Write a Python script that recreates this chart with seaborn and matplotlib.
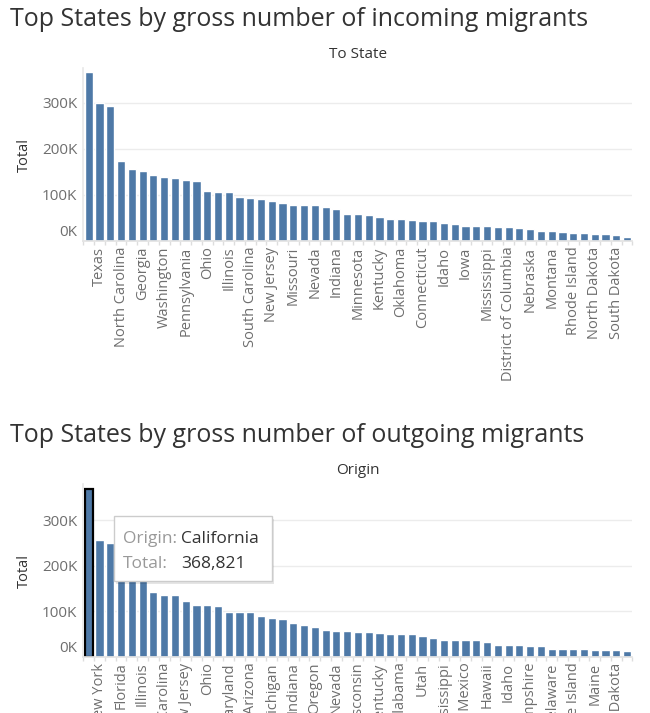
import numpy as np
import pandas as pd
import seaborn as sns
import matplotlib.pyplot as plt
from matplotlib.ticker import FuncFormatter
from matplotlib.transforms import ScaledTranslation
from matplotlib.patches import Rectangle

# ---------------- data ----------------
in_states = ["Florida", "Texas", "California", "North Carolina", "New York", "Georgia",
             "Arizona", "Washington", "Virginia", "Pennsylvania", "Colorado", "Ohio",
             "Tennessee", "Illinois", "Michigan", "South Carolina", "Maryland", "New Jersey",
             "Massachusetts", "Missouri", "Alabama", "Nevada", "Oregon", "Indiana",
             "Wisconsin", "Minnesota", "Louisiana", "Kentucky", "Utah", "Oklahoma",
             "Kansas", "Connecticut", "Arkansas", "Idaho", "New Mexico", "Iowa",
             "Hawaii", "Mississippi", "Maine", "District of Columbia", "New Hampshire",
             "Nebraska", "West Virginia", "Montana", "Delaware", "Rhode Island", "Alaska",
             "North Dakota", "Vermont", "South Dakota", "Wyoming"]
in_totals = [367000, 300000, 293000, 174000, 157000, 152000, 143000, 139000, 137000,
             133000, 130000, 109000, 107000, 107000, 96000, 93000, 91000, 87000, 83000,
             78000, 78000, 78000, 74000, 70000, 59000, 59000, 57000, 52000, 48000, 48000,
             46000, 43000, 43000, 39000, 37000, 33000, 33000, 33000, 30000, 30000, 28000,
             26000, 22000, 22000, 20000, 17000, 17000, 15000, 15000, 13000, 9000]

out_states = ["California", "New York", "Texas", "Florida", "Pennsylvania", "Illinois",
              "Virginia", "North Carolina", "Georgia", "New Jersey", "Washington", "Ohio",
              "Massachusetts", "Maryland", "Colorado", "Arizona", "Tennessee", "Michigan",
              "South Carolina", "Indiana", "Missouri", "Oregon", "Minnesota", "Nevada",
              "Louisiana", "Wisconsin", "Connecticut", "Kentucky", "Oklahoma", "Alabama",
              "Kansas", "Utah", "Iowa", "Mississippi", "Arkansas", "New Mexico",
              "District of Columbia", "Hawaii", "Nebraska", "Idaho", "West Virginia",
              "New Hampshire", "Alaska", "Delaware", "Montana", "Rhode Island",
              "South Dakota", "Maine", "Vermont", "North Dakota", "Wyoming"]
out_totals = [368821, 256000, 250000, 205000, 182000, 170000, 142000, 136000, 136000,
              123000, 114000, 114000, 112000, 99000, 99000, 99000, 90000, 85000, 83000,
              74000, 70000, 66000, 59000, 57000, 57000, 55000, 55000, 53000, 50000, 50000,
              50000, 46000, 42000, 37000, 37000, 37000, 37000, 33000, 26000, 26000, 26000,
              24000, 24000, 17500, 17500, 17500, 17500, 15000, 15000, 15000, 13000]

y_ticks = [0, 100000, 200000, 300000]
titles = ["Top States by gross number of incoming migrants",
          "Top States by gross number of outgoing migrants"]
headers = ["To State", "Origin"]
tooltip_labels = ["Origin:", "Total:"]
tooltip_values = ["California", "368,821"]

# ---------------- style ----------------
sns.set_theme(style="white")
plt.rcParams['font.family'] = ['Open Sans', 'DejaVu Sans']

W, H = 650, 713
fig = plt.figure(figsize=(W / 100, H / 100), dpi=100)
BAR = "#4e79a7"
TXT = "#333333"
TICK = "#6e6e6e"


def fx(px):
    return px / W


def fy(py):
    return 1 - py / H


def panel(states, totals, title, header, offset, ymax, highlight_first=False):
    top_px = 68 + offset
    base_px = 241 + offset
    ax = fig.add_axes([fx(83.4), fy(base_px), 549 / W, (base_px - top_px) / H])
    df = pd.DataFrame({"State": states, "Total": totals})
    sns.barplot(data=df, x="State", y="Total", order=states, color=BAR,
                saturation=1, width=0.76, ax=ax)
    n = len(states)
    ax.set_xlim(-0.5, n - 0.5)
    ax.set_ylim(0, ymax)
    ax.set_yticks(y_ticks)
    ax.yaxis.set_major_formatter(FuncFormatter(lambda v, p: f"{int(round(v / 1000))}K"))
    ax.yaxis.grid(True, color="#ececec", lw=1)
    ax.set_axisbelow(True)
    for s in ["top", "right"]:
        ax.spines[s].set_visible(False)
    ax.spines["left"].set_color("#e9e9e9")
    ax.spines["bottom"].set_color("#e3e3e3")

    ax.set_xticks(range(n))
    ax.set_xticklabels([s if i % 2 == 1 else "" for i, s in enumerate(states)],
                       rotation=90, fontsize=10.5, color=TICK)
    ax.set_xticks(np.arange(-0.5, n, 1), minor=True)
    ax.tick_params(axis="x", which="major", length=0, pad=4)
    ax.tick_params(axis="x", which="minor", bottom=True, length=3, color="#dddddd", width=1)
    ax.tick_params(axis="y", length=0, pad=4.5, labelsize=11, labelcolor=TICK)

    ax.set_xlabel("")
    ax.set_ylabel("Total", fontsize=10.5, color=TXT, va="center")
    ax.yaxis.set_label_coords(-0.108, 0.5)

    ticks = ax.yaxis.get_major_ticks()
    ticks[0].label1.set_transform(ticks[0].label1.get_transform()
                                  + ScaledTranslation(0, 0.10, fig.dpi_scale_trans))

    if highlight_first:
        p = ax.patches[0]
        p.set_edgecolor("black")
        p.set_linewidth(1.6)

    fig.text(fx(10), fy(25.7 + offset), title, ha="left", va="baseline",
             fontsize=18, color=TXT)
    fig.text(fx(358), fy(55 + offset), header, ha="center", va="center",
             fontsize=11, color=TXT)
    return ax


ax1 = panel(in_states, in_totals, titles[0], headers[0], 0, 376000)
ax2 = panel(out_states, out_totals, titles[1], headers[1], 416, 379000, highlight_first=True)

# tooltip overlay
fig.add_artist(Rectangle((fx(116), fy(583.5)), 158 / W, 65 / H, transform=fig.transFigure,
                         facecolor="#000000", alpha=0.10, edgecolor="none", zorder=5))
fig.add_artist(Rectangle((fx(114), fy(581)), 158 / W, 65 / H, transform=fig.transFigure,
                         facecolor="white", edgecolor="#cccccc", lw=1, zorder=6))
for i, (lab, val) in enumerate(zip(tooltip_labels, tooltip_values)):
    yb = 543 + 25 * i
    fig.text(fx(123), fy(yb), lab, ha="left", va="baseline", fontsize=12.5,
             color="#999999", zorder=7)
    fig.text(fx(181), fy(yb), val, ha="left", va="baseline", fontsize=12.5,
             color=TXT, zorder=7)

fig.savefig("out.png", dpi=100)
